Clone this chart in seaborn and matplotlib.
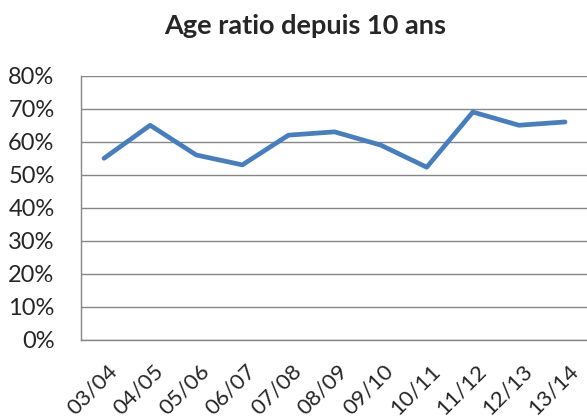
import numpy as np
import pandas as pd
import seaborn as sns
import matplotlib.pyplot as plt
import matplotlib.transforms as mtransforms
from matplotlib.ticker import PercentFormatter

seasons = ['03/04', '04/05', '05/06', '06/07', '07/08', '08/09',
           '09/10', '10/11', '11/12', '12/13', '13/14']
ratio = [55, 65, 56, 53, 62, 63, 59, 52.3, 69, 65, 66]

df = pd.DataFrame({'season': seasons, 'ratio': ratio})

sns.set_style('white')
plt.rcParams['font.family'] = ['Lato', 'DejaVu Sans']

W, H = 587, 419
fig = plt.figure(figsize=(W / 100, H / 100), dpi=100)
# plot area in pixels: left 81, top 75.7, bottom 340, runs to right edge
ax = fig.add_axes([81 / W, 1 - 340 / H, 1 - 81 / W, (340 - 75.7) / H])

sns.lineplot(data=df, x='season', y='ratio', ax=ax, color='#4A7EBB',
             linewidth=3.4, sort=False)

ax.set_ylim(0, 80)
ax.set_yticks(range(0, 81, 10))
ax.yaxis.set_major_formatter(PercentFormatter(decimals=0))
ax.set_xlim(-0.5, (W - 81) / 46.1 - 0.5)
ax.grid(axis='y', color='#868686', linewidth=1)
ax.set_axisbelow(True)
for side in ['top', 'right']:
    ax.spines[side].set_visible(False)
for side in ['left', 'bottom']:
    ax.spines[side].set_color('#868686')
    ax.spines[side].set_linewidth(1)
ax.set_xlabel('')
ax.set_ylabel('')
ax.tick_params(axis='y', labelsize=17, pad=19, length=0)
ax.tick_params(axis='x', labelsize=16, pad=15, length=0)
shift = mtransforms.ScaledTranslation(3 / 100, 0, fig.dpi_scale_trans)
for lab in ax.get_xticklabels():
    lab.set_rotation(45)
    lab.set_ha('right')
    lab.set_va('top')
    lab.set_rotation_mode('anchor')
    lab.set_transform(lab.get_transform() + shift)

fig.text(305 / W, 1 - 26 / H, 'Age ratio depuis 10 ans', fontsize=19.5,
         fontweight='bold', ha='center', va='center')

fig.savefig('out.png', dpi=100)
